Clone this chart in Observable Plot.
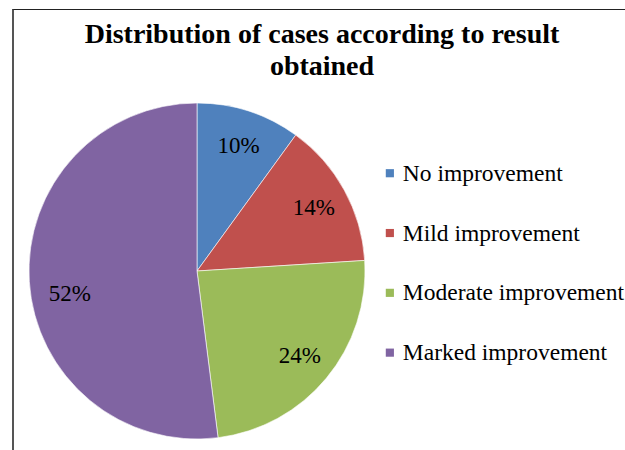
<!DOCTYPE html>
<html>
<head>
<meta charset="utf-8">
<script src="https://cdn.jsdelivr.net/npm/d3@7"></script>
<script src="https://cdn.jsdelivr.net/npm/@observablehq/plot@0.6"></script>
<style>
  html, body { margin: 0; padding: 0; background: #fff; }
  #wrap { position: relative; width: 625px; height: 450px; overflow: hidden; }
  #border { position: absolute; left: 12px; top: 9px; width: 700px; height: 600px;
            border-left: 2px solid #555; border-top: 1.5px solid #222; }
  #chart { position: absolute; left: 0; top: 0; }
</style>
</head>
<body>
<div id="wrap"><div id="border"></div><div id="chart"></div></div>
<script>
const categories = ["No improvement", "Mild improvement", "Moderate improvement", "Marked improvement"];
const percents = [10, 14, 24, 52];
const colors = ["#4F81BD", "#C0504D", "#9BBB59", "#8064A2"];
const titleLines = ["Distribution of cases according to result", "obtained"];

const total = d3.sum(percents);
let acc = 0;
const slices = categories.map((c, i) => {
  const a0 = acc / total * 2 * Math.PI;
  acc += percents[i];
  const a1 = acc / total * 2 * Math.PI;
  const mid = (a0 + a1) / 2;
  return {category: c, value: percents[i], a0, a1,
          lx: 0.79 * Math.sin(mid), ly: 0.79 * Math.cos(mid), label: percents[i] + "%"};
});
// small manual label nudges (Excel best-fit)
slices[3].lx = -0.76; slices[3].ly = -0.13;

const legend = categories.map((c, i) => ({category: c, x: 1.145, y: 0.585 - i * 0.356}));

function pieMark(data) {
  return function(index, scales) {
    const {x, y, color} = scales;
    const g = d3.create("svg:g");
    const cx = x(0), cy = y(0);
    const r = Math.abs(x(1) - x(0));
    const arc = d3.arc().innerRadius(0).outerRadius(r);
    g.selectAll("path").data(data).join("path")
      .attr("transform", `translate(${cx},${cy})`)
      .attr("d", d => arc({startAngle: d.a0, endAngle: d.a1}))
      .attr("fill", d => color(d.category))
      .attr("stroke", "#fff").attr("stroke-width", 0.6);
    return g.node();
  };
}

const plot = Plot.plot({
  width: 625, height: 450,
  margin: 0,
  x: {domain: [-1, 1], range: [29, 365], axis: null},
  y: {domain: [-1, 1], range: [439, 103], axis: null},
  color: {domain: categories, range: colors},
  style: {fontFamily: "'Liberation Serif', 'Times New Roman', serif", background: "transparent", overflow: "visible"},
  marks: [
    pieMark(slices),
    Plot.text(slices, {x: "lx", y: "ly", text: "label", fontSize: 23, fill: "#000"}),
    Plot.dot(legend, {x: "x", y: "y", symbol: "square", r: 4.6, fill: "category", stroke: "none"}),
    Plot.text(legend, {x: "x", y: "y", text: "category", dx: 13, textAnchor: "start", fontSize: 23.5, fill: "#000"}),
    Plot.text([titleLines[0]], {frameAnchor: "top", dx: 9, dy: 23, text: d => d, fontSize: 28, fontWeight: "bold", fill: "#000"}),
    Plot.text([titleLines[1]], {frameAnchor: "top", dx: 9, dy: 55, text: d => d, fontSize: 28, fontWeight: "bold", fill: "#000"})
  ]
});
document.getElementById("chart").appendChild(plot);
</script>
</body>
</html>
